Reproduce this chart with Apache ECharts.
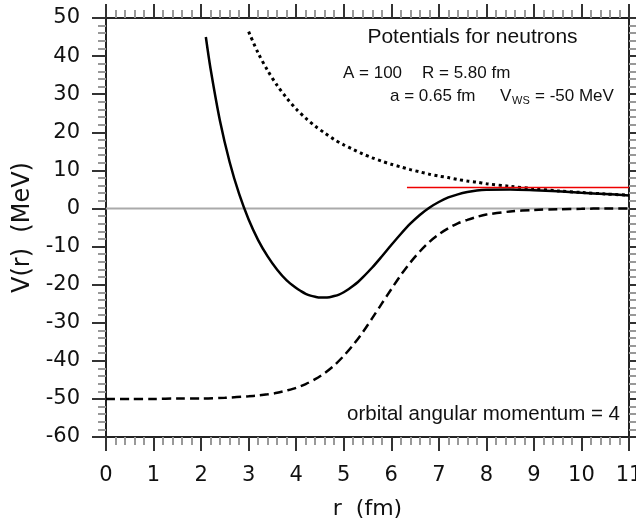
<!DOCTYPE html>
<html>
<head>
<meta charset="utf-8">
<script src="https://cdn.jsdelivr.net/npm/echarts@6.0.0/dist/echarts.min.js"></script>
<style>
  html, body { margin: 0; padding: 0; background: #fff; }
  #chart { width: 636px; height: 521px; }
</style>
</head>
<body>
<div id="chart"></div>
<script>
// Woods-Saxon well (dashed)
var rWS = [0, 0.5, 1, 1.5, 2, 2.5, 3, 3.2, 3.4, 3.6, 3.8, 4, 4.2, 4.4, 4.6, 4.8, 5, 5.2, 5.4, 5.6, 5.8,
           6, 6.2, 6.4, 6.6, 6.8, 7, 7.2, 7.4, 7.6, 7.8, 8, 8.5, 9, 9.5, 10, 10.5, 11];
var vWS = [-50.0, -50.0, -50.0, -49.9, -49.9, -49.7, -49.3, -49.1, -48.8, -48.4, -47.8, -47.1, -46.1, -44.8, -43.2, -41.2, -38.7, -35.8, -32.5, -28.8, -25.0,
           -21.2, -17.5, -14.2, -11.3, -8.8, -6.8, -5.2, -3.9, -3.0, -2.2, -1.6, -0.8, -0.4, -0.2, -0.1, 0.0, 0.0];

// centrifugal term (dotted)
var rCent = [3, 3.2, 3.4, 3.6, 3.8, 4, 4.2, 4.4, 4.6, 4.8, 5, 5.2, 5.4, 5.6, 5.8,
             6, 6.2, 6.4, 6.6, 6.8, 7, 7.2, 7.4, 7.6, 7.8, 8, 8.5, 9, 9.5, 10, 10.5, 11];
var vCent = [46.4, 40.8, 36.2, 32.3, 29.0, 26.1, 23.7, 21.6, 19.8, 18.1, 16.7, 15.5, 14.3, 13.3, 12.4,
             11.6, 10.9, 10.2, 9.6, 9.0, 8.5, 8.1, 7.6, 7.2, 6.9, 6.5, 5.8, 5.2, 4.6, 4.2, 3.8, 3.5];

// total potential (solid)
var rTot = [2.1, 2.2, 2.4, 2.6, 2.8, 3, 3.2, 3.4, 3.6, 3.8, 4, 4.1, 4.2, 4.3, 4.4, 4.5, 4.6, 4.7, 4.8, 4.9,
            5, 5.1, 5.2, 5.3, 5.4, 5.6, 5.8,
            6, 6.2, 6.4, 6.6, 6.8, 7, 7.2, 7.4, 7.6, 7.8, 8, 8.5, 9, 9.5, 10, 10.5, 11];
var vTot = [45.0, 36.6, 22.8, 12.2, 3.8, -2.9, -8.3, -12.6, -16.1, -18.9, -20.9, -21.7, -22.4, -22.9, -23.2, -23.4, -23.4, -23.3, -23.0, -22.6,
            -22.0, -21.2, -20.3, -19.3, -18.1, -15.5, -12.6,
            -9.6, -6.7, -4.0, -1.7, 0.2, 1.7, 2.9, 3.7, 4.3, 4.7, 4.9, 5.0, 4.8, 4.5, 4.1, 3.8, 3.4];

// zero line and barrier-top line
var zeroLine = [[0, 0], [11, 0]];
var barrierLine = [[6.33, 5.5], [11, 5.5]];

var xTicks = { min: 0, max: 11, interval: 1 };
var yTicks = { min: -60, max: 50, interval: 10 };

function pairs(xs, ys) {
  var out = [];
  for (var i = 0; i < xs.length; i++) out.push([xs[i], ys[i]]);
  return out;
}

var FONT = '"Liberation Sans", Arial, Helvetica, sans-serif';
var AXFONT = '"DejaVu Sans", "Liberation Sans", sans-serif';

function axisCommon(showLabel) {
  return {
    axisLine: { show: true, onZero: false, lineStyle: { color: '#222', width: 2 } },
    axisTick: { show: true, inside: false, length: 14, lineStyle: { color: '#333', width: 2 } },
    minorTick: { show: true, splitNumber: 5, length: 8, lineStyle: { color: '#999', width: 2 } },
    splitLine: { show: false },
    minorSplitLine: { show: false },
    axisLabel: { show: showLabel, color: '#111', fontSize: 21, fontFamily: AXFONT }
  };
}

var chart = echarts.init(document.getElementById('chart'), null, { renderer: 'canvas' });

var xBottom = Object.assign({ type: 'value', position: 'bottom', min: xTicks.min, max: xTicks.max, interval: xTicks.interval,
  name: 'r  (fm)', nameLocation: 'middle', nameGap: 61,
  nameTextStyle: { fontSize: 22, color: '#111', fontFamily: AXFONT } }, axisCommon(true));
xBottom.axisLabel.margin = 28;
var xTop = Object.assign({ type: 'value', position: 'top', min: xTicks.min, max: xTicks.max, interval: xTicks.interval }, axisCommon(false));
var yLeft = Object.assign({ type: 'value', position: 'left', min: yTicks.min, max: yTicks.max, interval: yTicks.interval,
  name: 'V(r)  (MeV)', nameLocation: 'middle', nameGap: 70,
  nameTextStyle: { fontSize: 24, color: '#111', fontFamily: AXFONT } }, axisCommon(true));
yLeft.axisLabel.margin = 26;
var yRight = Object.assign({ type: 'value', position: 'right', min: yTicks.min, max: yTicks.max, interval: yTicks.interval }, axisCommon(false));

function txt(x, y, s, size, align) {
  return { type: 'text', x: x, y: y, silent: true,
    style: { text: s, fill: '#111', fontSize: size, fontFamily: FONT, align: align || 'left', verticalAlign: 'middle' } };
}

chart.setOption({
  animation: false,
  backgroundColor: '#fff',
  grid: { left: 106, right: 7, top: 18, bottom: 84, containLabel: false, outerBoundsMode: 'none' },
  xAxis: [xBottom, xTop],
  yAxis: [yLeft, yRight],
  series: [
    { type: 'line', data: zeroLine, symbol: 'none', silent: true,
      lineStyle: { color: '#aaa', width: 2 } },
    { type: 'line', data: pairs(rWS, vWS), symbol: 'none', smooth: 0.3, silent: true,
      lineStyle: { color: '#000', width: 2.5, type: [9, 5] } },
    { type: 'line', data: pairs(rCent, vCent), symbol: 'none', smooth: 0.3, silent: true,
      lineStyle: { color: '#000', width: 3, type: [3, 3.5] } },
    { type: 'line', data: pairs(rTot, vTot), symbol: 'none', smooth: 0.3, silent: true,
      lineStyle: { color: '#000', width: 2.5 } },
    { type: 'line', data: barrierLine, symbol: 'none', silent: true,
      lineStyle: { color: '#e00', width: 1.5 } }
  ],
  graphic: [
    txt(472.5, 37, 'Potentials for neutrons', 21, 'center'),
    txt(343, 73, 'A = 100', 17),
    txt(422, 73, 'R = 5.80 fm', 17),
    txt(390, 96, 'a = 0.65 fm', 17),
    txt(500, 96, 'V', 17),
    txt(512, 101, 'WS', 11),
    txt(535, 96, '= -50 MeV', 17),
    txt(620, 414, 'orbital angular momentum = 4', 20.5, 'right')
  ]
});
</script>
</body>
</html>
